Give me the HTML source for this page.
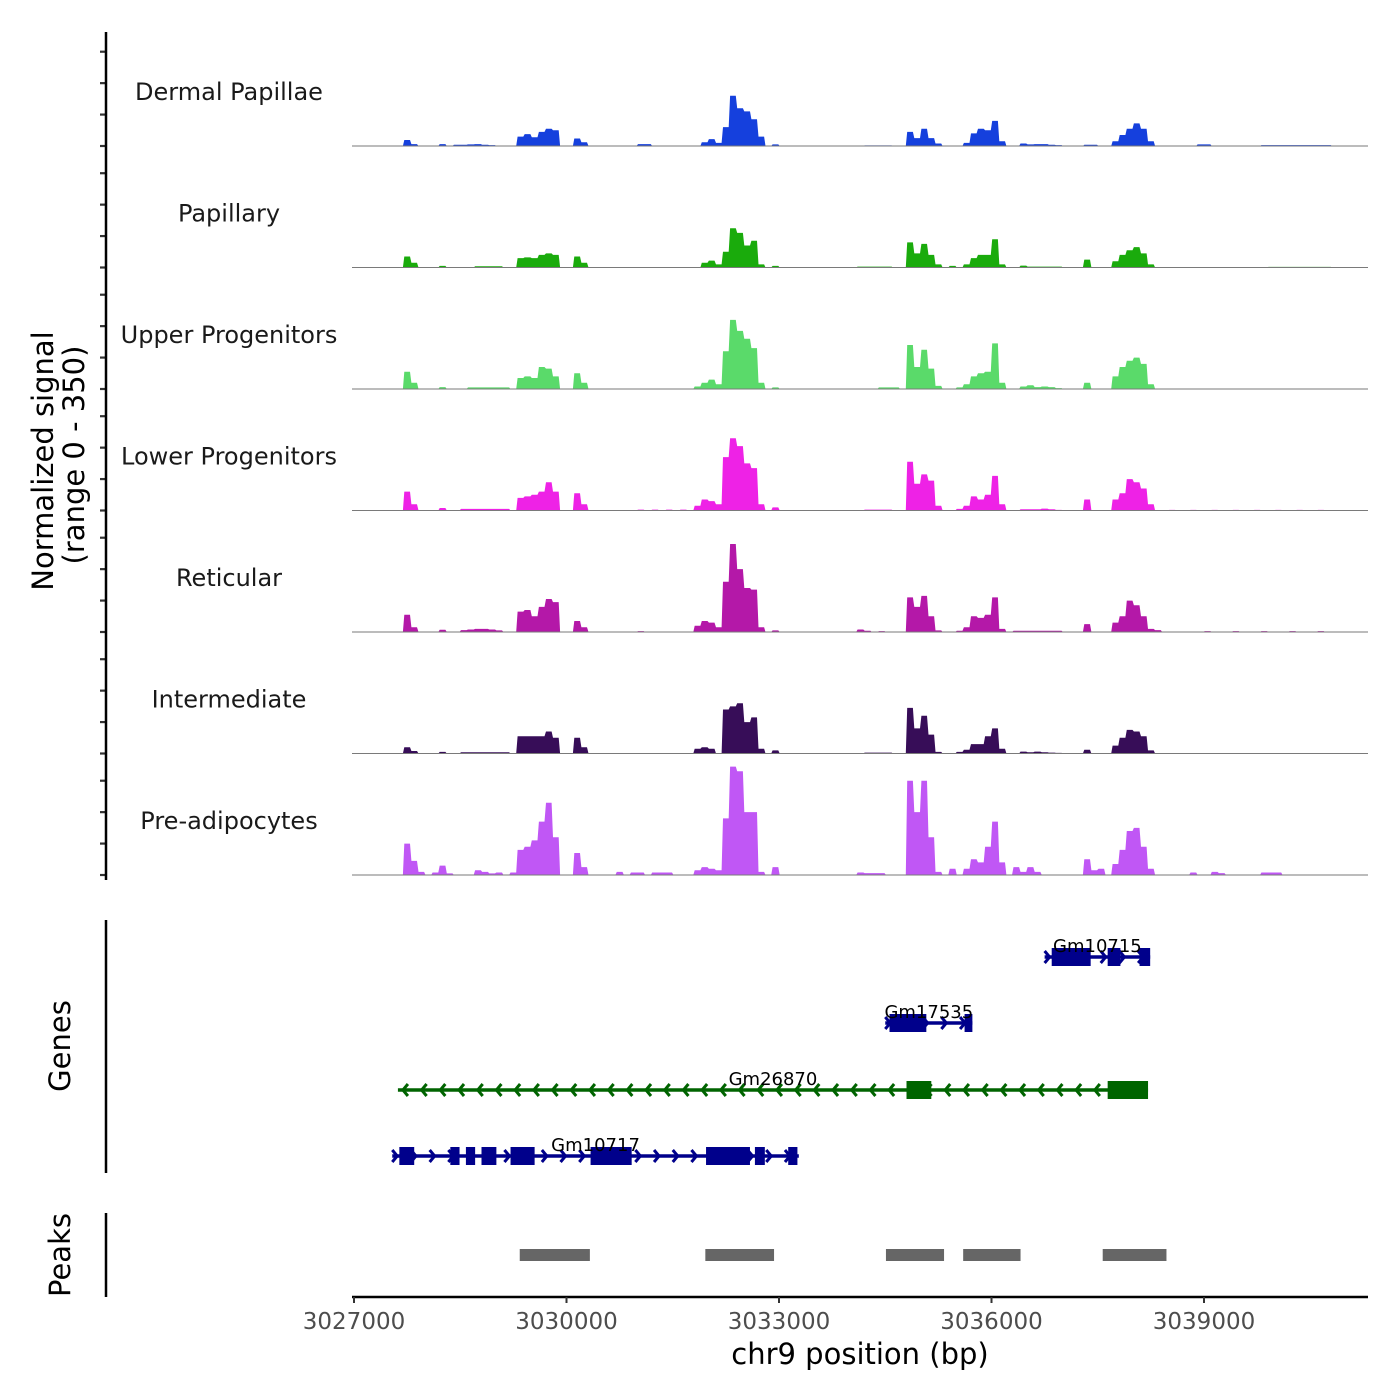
<!DOCTYPE html>
<html><head><meta charset="utf-8"><style>
html,body{margin:0;padding:0;background:#fff;}
svg{display:block;font-family:"DejaVu Sans","Liberation Sans",sans-serif;}
</style></head><body>
<svg id="chart" width="1400" height="1400" viewBox="0 0 1400 1400" xmlns="http://www.w3.org/2000/svg"></svg>
<script>
// ---- data ----
const BIN_START = 3027000;
const BIN_SIZE = 100;
const trackNames = ["Dermal Papillae","Papillary","Upper Progenitors","Lower Progenitors","Reticular","Intermediate","Pre-adipocytes"];
const trackColors = ["#1540dd","#1aab0c","#5ada6a","#ee22e6","#b418a8","#370d58","#c057f5"];
// [bin index, normalized signal]
const dermalPapillae = [[7,19],[8,6],[12,6],[14,4],[15,4],[16,5],[17,6],[18,4],[19,3],[23,30],[24,38],[25,28],[26,45],[27,55],[28,50],[31,24],[32,12],[40,6],[41,6],[49,12],[50,22],[51,10],[52,60],[53,160],[54,120],[55,110],[56,85],[57,30],[59,5],[72,2],[73,2],[74,2],[75,2],[78,45],[79,25],[80,55],[81,25],[82,8],[86,10],[87,40],[88,55],[89,50],[90,80],[91,15],[94,8],[95,5],[96,6],[97,6],[98,4],[99,3],[103,4],[104,4],[107,15],[108,35],[109,55],[110,72],[111,55],[112,15],[119,5],[120,5],[128,3],[129,3],[130,3],[131,3],[132,3],[133,3],[134,3],[135,3],[136,3],[137,3]];
const papillary = [[7,35],[8,15],[12,5],[17,4],[18,4],[19,4],[20,4],[23,30],[24,32],[25,30],[26,40],[27,45],[28,40],[31,35],[32,15],[49,15],[50,22],[51,10],[52,50],[53,125],[54,110],[55,70],[56,85],[57,10],[59,5],[71,3],[72,3],[73,3],[74,3],[75,3],[78,80],[79,45],[80,75],[81,40],[82,10],[84,5],[86,10],[87,30],[88,40],[89,40],[90,90],[91,10],[94,6],[95,3],[96,3],[97,3],[98,3],[99,3],[103,25],[107,20],[108,40],[109,55],[110,65],[111,45],[112,10],[129,2],[130,2],[131,2],[132,2],[133,2],[134,2],[135,2],[136,2],[137,2]];
const upperProgenitors = [[7,55],[8,20],[12,6],[16,5],[17,5],[18,5],[19,5],[20,5],[21,5],[23,35],[24,40],[25,35],[26,70],[27,65],[28,40],[31,50],[32,20],[48,8],[49,20],[50,30],[51,15],[52,120],[53,220],[54,185],[55,160],[56,130],[57,20],[59,5],[74,5],[75,5],[76,5],[78,140],[79,70],[80,125],[81,65],[82,10],[85,5],[86,15],[87,40],[88,50],[89,55],[90,145],[91,20],[94,8],[95,12],[96,6],[97,8],[98,6],[99,3],[103,20],[107,40],[108,70],[109,90],[110,100],[111,80],[112,15]];
const lowerProgenitors = [[7,60],[8,20],[12,8],[15,5],[16,5],[17,5],[18,5],[19,5],[20,5],[21,5],[23,40],[24,45],[25,50],[26,60],[27,90],[28,60],[31,55],[32,20],[40,3],[42,3],[44,3],[46,3],[48,15],[49,35],[50,30],[51,20],[52,170],[53,230],[54,205],[55,150],[56,135],[57,20],[59,10],[72,3],[73,3],[74,3],[75,3],[78,155],[79,85],[80,115],[81,95],[82,15],[85,5],[86,15],[87,45],[88,35],[89,50],[90,110],[91,20],[94,4],[95,4],[96,4],[97,6],[98,4],[99,2],[103,35],[107,35],[108,55],[109,100],[110,90],[111,70],[112,20],[115,2],[118,2],[121,2],[124,2],[127,2],[130,2],[133,2],[136,2]];
const reticular = [[7,55],[8,15],[12,7],[15,6],[16,8],[17,10],[18,10],[19,8],[20,5],[23,65],[24,70],[25,50],[26,80],[27,105],[28,95],[31,35],[32,15],[40,3],[48,20],[49,35],[50,30],[51,15],[52,160],[53,280],[54,200],[55,140],[56,135],[57,15],[59,5],[71,8],[72,4],[74,3],[78,110],[79,80],[80,115],[81,50],[82,5],[85,4],[86,15],[87,50],[88,45],[89,55],[90,110],[91,10],[93,4],[94,4],[95,4],[96,4],[97,4],[98,4],[99,4],[103,25],[107,30],[108,50],[109,100],[110,85],[111,50],[112,10],[113,6],[120,3],[124,3],[128,3],[132,3],[136,3]];
const intermediate = [[7,20],[8,8],[12,5],[15,4],[16,4],[17,4],[18,4],[19,4],[20,4],[21,4],[23,55],[24,55],[25,55],[26,55],[27,70],[28,50],[31,50],[32,20],[48,15],[49,20],[50,15],[52,140],[53,150],[54,160],[55,100],[56,115],[57,15],[59,10],[72,3],[73,3],[74,3],[75,3],[78,145],[79,80],[80,120],[81,60],[82,5],[85,5],[86,12],[87,30],[88,30],[89,55],[90,80],[91,15],[94,6],[95,4],[96,6],[97,4],[98,3],[99,2],[103,12],[107,25],[108,50],[109,75],[110,70],[111,55],[112,10]];
const preAdipocytes = [[7,100],[8,45],[9,10],[11,8],[12,30],[13,5],[17,15],[18,10],[19,5],[20,8],[22,8],[23,80],[24,90],[25,110],[26,170],[27,230],[28,120],[31,70],[32,25],[37,10],[39,8],[40,8],[42,8],[43,8],[44,8],[48,15],[49,25],[50,20],[51,15],[52,180],[53,345],[54,330],[55,200],[56,200],[57,10],[59,25],[71,8],[72,6],[73,6],[74,6],[78,300],[79,200],[80,300],[81,120],[82,10],[84,20],[86,20],[87,50],[88,40],[89,90],[90,170],[91,40],[93,25],[94,10],[95,25],[96,10],[103,50],[104,15],[105,20],[107,35],[108,80],[109,140],[110,150],[111,90],[112,20],[118,8],[121,10],[122,6],[128,8],[129,8],[130,8]];
const trackData = [dermalPapillae,papillary,upperProgenitors,lowerProgenitors,reticular,intermediate,preAdipocytes];
const xTicks = [3027000,3030000,3033000,3036000,3039000];
const yTicks = [0,100,200,300];
const peakStarts = [3029340,3031960,3034510,3035600,3037570];
const peakEnds = [3030330,3032930,3035330,3036410,3038470];
const geneNames = ["Gm10715","Gm17535","Gm26870","Gm10717"];
const geneStarts = [3036750,3034500,3027620,3027540];
const geneEnds = [3038240,3035730,3038210,3033280];
const geneStrands = [1,1,-1,1];
const geneExons = [
  [[3036850,3037400],[3037640,3037820],[3038090,3038240]],
  [[3034560,3035080],[3035620,3035730]],
  [[3034800,3035150],[3037640,3038210]],
  [[3027640,3027850],[3028360,3028490],[3028580,3028710],[3028800,3029010],[3029210,3029550],[3030340,3030920],[3031970,3032590],[3032660,3032800],[3033130,3033260]]
];

// ---- scales ----
const X0 = 354, X1 = 1204;
function xs(bp){ return X0 + (bp - 3027000) * (X1 - X0) / 12000; }
const baselines = [146,267.5,389,510.5,632,753.5,875];
const PX_PER_UNIT = 110/350;
function ys(t,v){ return baselines[t] - v*PX_PER_UNIT; }

const svg = document.getElementById('chart');
const NS = "http://www.w3.org/2000/svg";
function mk(tag, attrs, parent){
  const e = document.createElementNS(NS, tag);
  for (const k in attrs) e.setAttribute(k, attrs[k]);
  (parent||svg).appendChild(e);
  return e;
}

// signal tracks
trackData.forEach((data,t)=>{
  const g = mk('g',{});
  
  
  const map = {};
  data.forEach(([i,v])=>{ map[i]=v; });
  let d = 'M' + xs(BIN_START) + ',' + baselines[t];
  for (let i=0;i<143;i++){
    const v = map[i]||0;
    const xa = xs(BIN_START + i*BIN_SIZE + 10);
    const xb = xs(BIN_START + (i+1)*BIN_SIZE - 10);
    const yv = ys(t,v).toFixed(1);
    d += ' L' + xa.toFixed(1) + ',' + yv + ' L' + xb.toFixed(1) + ',' + yv;
  }
  d += ' L' + xs(BIN_START+143*BIN_SIZE) + ',' + baselines[t] + ' Z';
  const p = mk('path',{d:d, fill:trackColors[t], stroke:'none'}, g);
  
  
  const bl = mk('line',{x1:352,x2:1368,y1:baselines[t],y2:baselines[t],stroke:'#7a7a7a','stroke-width':1}, g);
  
  
  const lab = mk('text',{x:229,y:baselines[t]-46,'text-anchor':'middle','font-size':24,fill:'#1a1a1a'}, g);
  lab.textContent = trackNames[t];
  
  
  yTicks.forEach(v=>{
    const tk = mk('line',{x1:100,x2:106,y1:ys(t,v),y2:ys(t,v),stroke:'#333','stroke-width':2.2});
    
    
  });
});

// left axes
[[32,880,'signal-y-axis'],[920,1173,'genes-axis'],[1213,1297,'peaks-axis']].forEach(a=>{
  const l = mk('line',{x1:106,x2:106,y1:a[0],y2:a[1],stroke:'#000','stroke-width':2.5});
  
  
});
function rotText(x,y,s,name,size){
  const t = mk('text',{x:x,y:y,transform:'rotate(-90 '+x+' '+y+')','text-anchor':'middle','font-size':size,fill:'#000'});
  t.textContent = s;
  
  
}
rotText(53,461,'Normalized signal','y-axis-title',29);
rotText(84,455,'(range 0 - 350)','y-axis-subtitle',29);
rotText(70,1046,'Genes','genes-title',29);
rotText(70,1255,'Peaks','peaks-title',29);

// genes
const geneRowY = [957,1023,1090,1156];
geneNames.forEach((name,gi)=>{
  const g = mk('g',{});
  
  
  const col = geneStrands[gi] > 0 ? '#00008b' : '#006400';
  const y = geneRowY[gi];
  const xa = xs(geneStarts[gi]), xb = xs(geneEnds[gi]);
  mk('line',{x1:xa,x2:xb,y1:y,y2:y,stroke:col,'stroke-width':3.5}, g);
  for (let x = xa + 5; x <= xb - 2; x += 18.7){
    const dx = geneStrands[gi] > 0 ? -5 : 5;
    mk('polyline',{points:(x+dx)+','+(y-6)+' '+x+','+y+' '+(x+dx)+','+(y+6),fill:'none',stroke:col,'stroke-width':3}, g);
  }
  geneExons[gi].forEach(ex=>{
    const r = mk('rect',{x:xs(ex[0]),y:y-9,width:xs(ex[1])-xs(ex[0]),height:18,fill:col}, g);
    
    
  });
  const t = mk('text',{x:(xa+xb)/2,y:y-5,'text-anchor':'middle','font-size':18,fill:'#000'}, g);
  t.textContent = name;
  
  
});

// peaks
peakStarts.forEach((s,i)=>{
  const r = mk('rect',{x:xs(s),y:1249,width:xs(peakEnds[i])-xs(s),height:12,fill:'#666666'});
  
  
});

// x axis
const xa = mk('line',{x1:352,x2:1368,y1:1297,y2:1297,stroke:'#000','stroke-width':2.5});


xTicks.forEach(v=>{
  const x = xs(v);
  const tk = mk('line',{x1:x,x2:x,y1:1297,y2:1303,stroke:'#333','stroke-width':2});
  
  
  const t = mk('text',{x:x,y:1329,'text-anchor':'middle','font-size':23,fill:'#4d4d4d'});
  t.textContent = String(v);
  
  
});
const xt = mk('text',{x:860,y:1364,'text-anchor':'middle','font-size':29,fill:'#000'});
xt.textContent = 'chr9 position (bp)';


</script>
</body></html>
